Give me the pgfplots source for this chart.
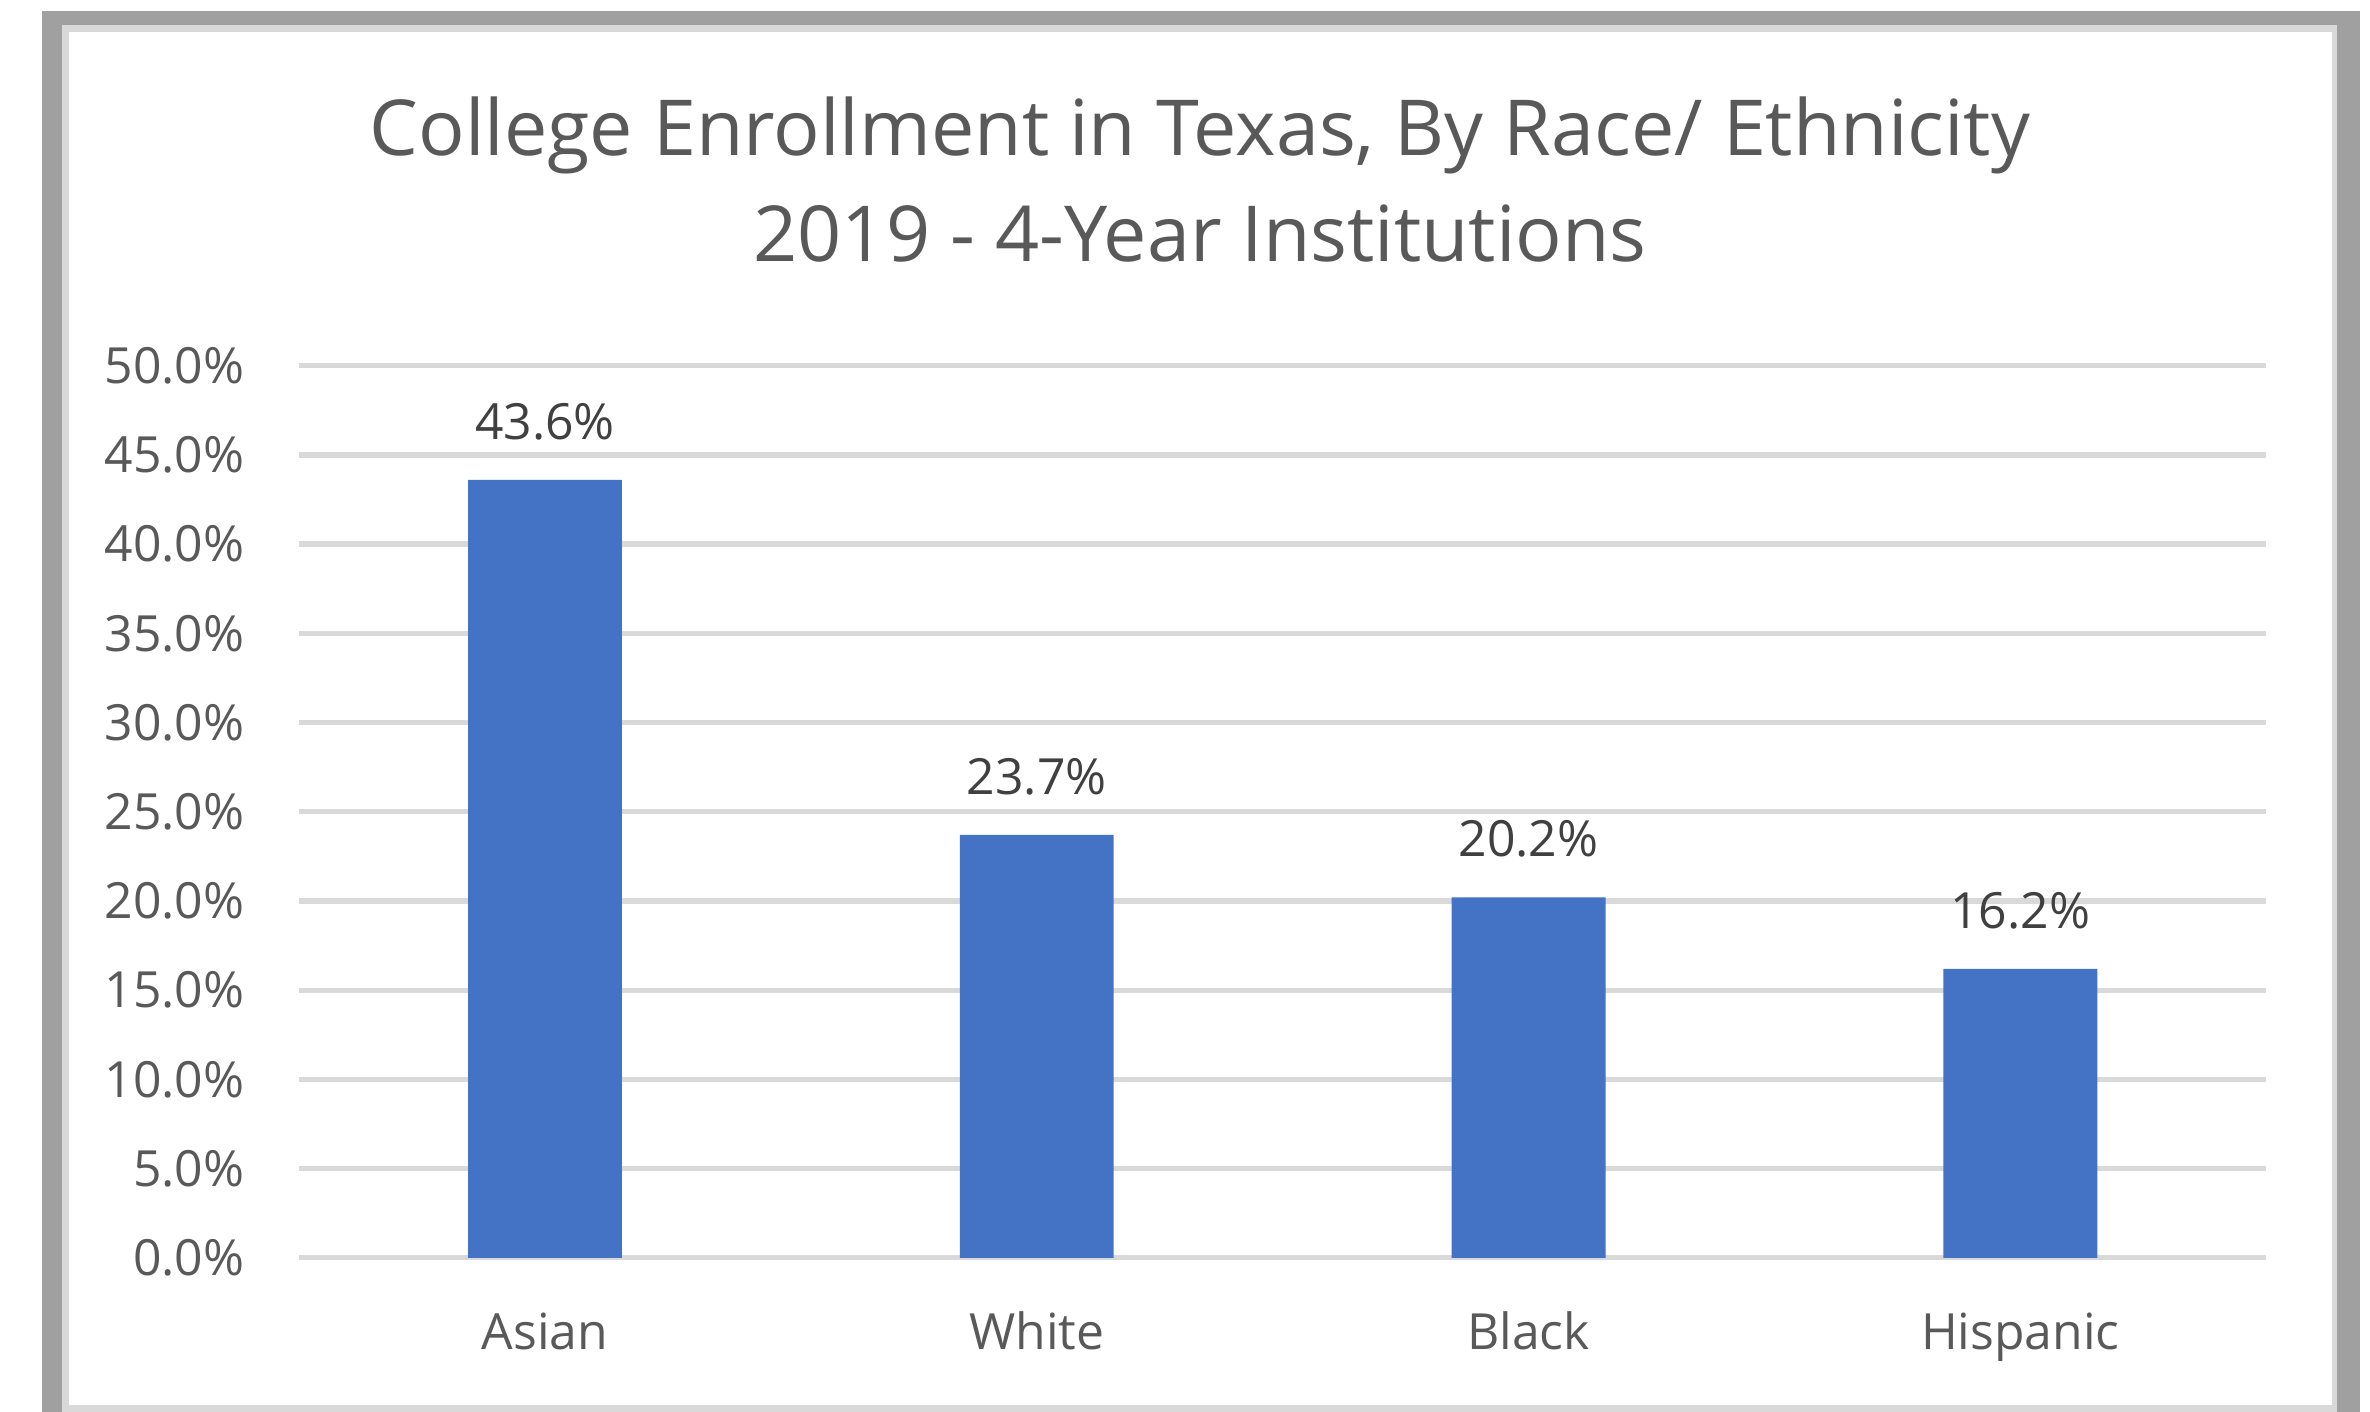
\documentclass[border=0pt]{standalone}
\usepackage{fontspec}
\setmainfont{Open Sans}
\usepackage{pgfplots}
\pgfplotsset{compat=1.18}

\definecolor{barblue}{HTML}{4472C4}
\definecolor{gridgray}{HTML}{D9D9D9}
\definecolor{txtgray}{HTML}{595959}
\definecolor{lblgray}{HTML}{404040}
\definecolor{framegray}{HTML}{A0A0A0}

\begin{document}
\begin{tikzpicture}[x=0.005cm,y=-0.005cm]
\useasboundingbox (0,0) rectangle (2370,1412);
% frame
\fill[framegray] (42,11) rectangle (2360,1440);
\fill[gridgray] (62,25) rectangle (2337,1430);
\fill[white] (69,32) rectangle (2332,1405);
% title
\node[anchor=base, inner sep=0pt, text=txtgray, font=\fontsize{11}{13}\selectfont]
  at (1200,156) {College Enrollment in Texas, By Race/ Ethnicity};
\node[anchor=base, inner sep=0pt, text=txtgray, font=\fontsize{11}{13}\selectfont]
  at (1200,262) {2019 - 4-Year Institutions};

\begin{axis}[
    at={(1.497cm,-6.295cm)}, anchor=south west,
    scale only axis,
    width=9.845cm, height=4.465cm,
    xmin=-0.5, xmax=3.5,
    ymin=0, ymax=50,
    ytick={0,5,...,50},
    xtick={0,1,2,3},
    xticklabels={Asian,White,Black,Hispanic},
    ymajorgrids=true,
    grid style={gridgray, line width=0.75pt},
    axis line style={draw=none},
    major tick length=0pt,
    /pgf/number format/.cd, fixed, fixed zerofill, precision=1, assume math mode=true,
    /pgfplots/.cd,
    yticklabel={\pgfmathprintnumber{\tick}\%},
    tick label style={text=txtgray, font=\fontsize{7.1}{9}\selectfont},
    yticklabel style={anchor=east, inner sep=0pt, xshift=-7.6pt},
    xticklabel style={anchor=base, inner sep=0pt, yshift=-13pt},
    ybar, bar width=0.77cm,
    nodes near coords={\pgfmathprintnumber{\pgfplotspointmeta}\%},
    every node near coord/.append style={anchor=base, inner sep=0pt, yshift=5.8pt,
        text=lblgray, font=\fontsize{7.1}{9}\selectfont},
]
\addplot[fill=barblue, draw=none] coordinates {
    (0,43.6) (1,23.7) (2,20.2) (3,16.2)
};
\end{axis}
\end{tikzpicture}
\end{document}
